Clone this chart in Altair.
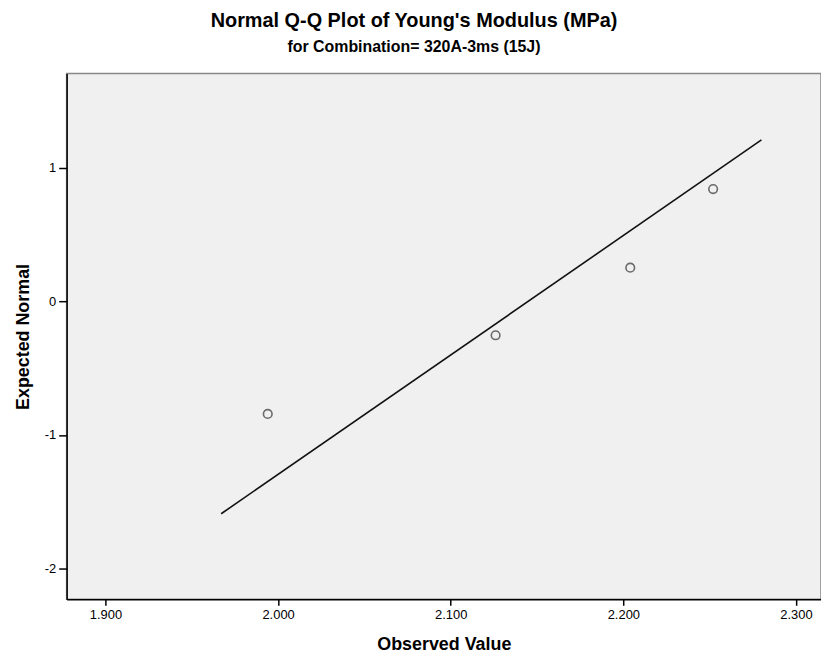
import altair as alt
import pandas as pd

# Observed values (x) and expected normal quantiles (y)
observed = [1.994, 2.126, 2.204, 2.252]
expected = [-0.842, -0.253, 0.253, 0.842]

# Reference line endpoints
line_x = [1.967, 2.280]
line_y = [-1.59, 1.21]

x_ticks = [1.9, 2.0, 2.1, 2.2, 2.3]
y_ticks = [-2, -1, 0, 1]

pts = pd.DataFrame({"obs": observed, "exp": expected})
ln = pd.DataFrame({"obs": line_x, "exp": line_y})

FONT = "Liberation Sans"

xs = alt.Scale(domain=[1.8775, 2.3145], nice=False, zero=False)
ys = alt.Scale(domain=[-2.231, 1.707], nice=False, zero=False)

xaxis = alt.Axis(values=x_ticks, format=".3f", title="Observed Value", grid=False,
                 domainColor="#000000", domainWidth=1.5, tickColor="#000000",
                 tickSize=6, tickWidth=1.5, labelFont=FONT, labelFontSize=13,
                 labelColor="#000000", labelPadding=3, titleFont=FONT,
                 titleFontSize=18, titleFontWeight="bold", titleColor="#000000",
                 titlePadding=14)
yaxis = alt.Axis(values=y_ticks, title="Expected Normal", grid=False,
                 labelExpr="datum.value + ''",
                 domainColor="#000000", domainWidth=1.5, tickColor="#000000",
                 tickSize=8, tickWidth=1.5, labelFont=FONT, labelFontSize=13,
                 labelColor="#000000", labelPadding=3, titleFont=FONT,
                 titleFontSize=18, titleFontWeight="bold", titleColor="#000000",
                 titlePadding=12)

line = alt.Chart(ln).mark_line(color="#111111", strokeWidth=1.6).encode(
    x=alt.X("obs:Q", scale=xs, axis=xaxis),
    y=alt.Y("exp:Q", scale=ys, axis=yaxis),
)

points = alt.Chart(pts).mark_point(shape="circle", filled=False, size=75,
                                   color="#333333", strokeWidth=1.6).encode(
    x=alt.X("obs:Q", scale=xs),
    y=alt.Y("exp:Q", scale=ys),
)

chart = alt.layer(line, points).properties(
    width=759,
    height=529,
    title=alt.TitleParams(
        text="Normal Q-Q Plot of Young's Modulus (MPa)",
        subtitle="for Combination= 320A-3ms (15J)",
        font=FONT, fontSize=20, fontWeight="bold", color="#000000",
        subtitleFont=FONT, subtitleFontSize=16, subtitleFontWeight="bold",
        subtitleColor="#000000", subtitlePadding=8,
        anchor="middle", frame="group", dx=-30, offset=19,
    ),
    autosize=alt.AutoSizeParams(type="none"),
    padding={"left": 59, "top": 64, "right": 0, "bottom": 55},
).configure_view(
    fill="#F0F0F0", stroke="#888888", strokeWidth=1.5
)

chart.save("out.html", embed_options={"renderer": "svg", "actions": False})
